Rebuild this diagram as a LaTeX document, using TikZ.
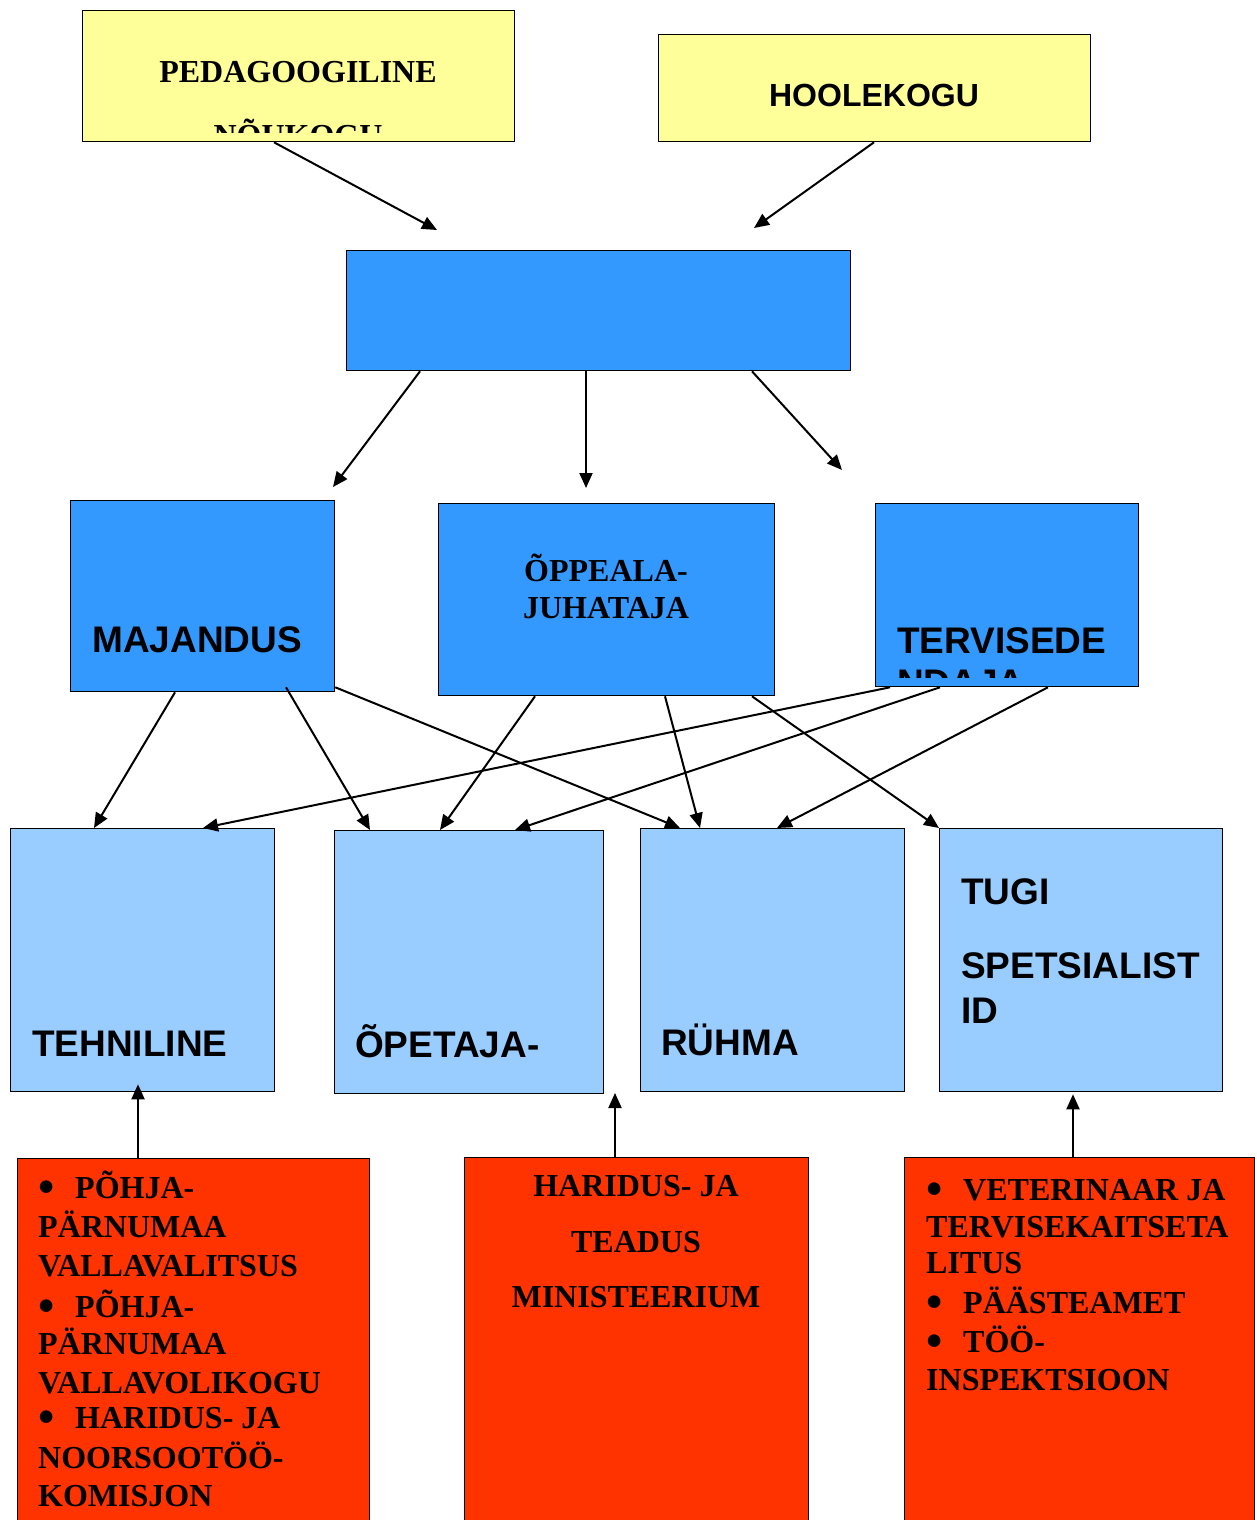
\documentclass[tikz,border=0pt]{standalone}
\usepackage{fontspec}
\usepackage{graphicx}
\newfontfamily\tnr{Liberation Serif}
\newfontfamily\arl{Liberation Sans}
\usetikzlibrary{arrows.meta,calc}
\definecolor{cyel}{HTML}{FFFF99}
\definecolor{cblue}{HTML}{3399FF}
\definecolor{clight}{HTML}{99CCFF}
\definecolor{cred}{HTML}{FF3300}
\newcommand{\mybul}{\makebox[37pt][l]{\smash{\raisebox{-4.5pt}{\scalebox{1.45}{•}}}}}
\begin{document}
\begin{tikzpicture}[x=1pt,y=-1pt,
  box/.style={draw=black,line width=1.3pt,inner sep=0pt,anchor=north west},
  yelbox/.style={box,fill=cyel},
  bluebox/.style={box,fill=cblue},
  lightbox/.style={box,fill=clight},
  redbox/.style={box,fill=cred},
  arr/.style={-{Triangle[length=15pt,width=13pt]},line width=2pt,black},
  ts/.style={inner sep=0pt,font=\tnr\bfseries\fontsize{32}{38}\selectfont},
  asm/.style={inner sep=0pt,font=\arl\bfseries\fontsize{32}{38}\selectfont},
  alg/.style={inner sep=0pt,font=\arl\bfseries\fontsize{37}{44}\selectfont}
]
\useasboundingbox (0,0) rectangle (1256,1520);
\fill[white] (0,0) rectangle (1256,1520);

% boxes
\node[yelbox,minimum width=432pt,minimum height=131pt] (ped) at (82,10) {};
\node[yelbox,minimum width=432pt,minimum height=107pt] (hoole) at (658,34) {};
\node[bluebox,minimum width=504pt,minimum height=120pt] (dir) at (346,250) {};
\node[bluebox,minimum width=264pt,minimum height=191pt] (maj) at (70,500) {};
\node[bluebox,minimum width=336pt,minimum height=192pt] (opp) at (438,503) {};
\node[bluebox,minimum width=263pt,minimum height=183pt] (ter) at (875,503) {};
\node[lightbox,minimum width=264pt,minimum height=263pt] (teh) at (10,828) {};
\node[lightbox,minimum width=269pt,minimum height=263pt] (ope) at (334,830) {};
\node[lightbox,minimum width=264pt,minimum height=263pt] (ryh) at (640,828) {};
\node[lightbox,minimum width=283pt,minimum height=263pt] (tug) at (939,828) {};
\node[redbox,minimum width=352pt,minimum height=400pt] (r1) at (17,1158) {};
\node[redbox,minimum width=344pt,minimum height=400pt] (r2) at (464,1157) {};
\node[redbox,minimum width=350pt,minimum height=400pt] (r3) at (904,1157) {};

% free arrow ends
\coordinate (c1) at (437,230);
\coordinate (c2) at (754,228);
\coordinate (c3) at (333,487);
\coordinate (c4) at (586,488);
\coordinate (c5) at (842,470);
\coordinate (c6) at (615,1093);

% arrows
\draw[arr] ($(ped.south west)+(192,0)$) -- (c1);
\draw[arr] ($(hoole.south west)+(216,0)$) -- (c2);
\draw[arr] ($(dir.south west)+(74,0)$) -- (c3);
\draw[arr] ($(dir.south west)+(240,0)$) -- (c4);
\draw[arr] ($(dir.south west)+(406,0)$) -- (c5);
\draw[arr] ($(maj.south west)+(105,0)$) -- ($(teh.north west)+(84,0)$);
\draw[arr] ($(maj.south west)+(216,-5)$) -- ($(ope.north west)+(36,0)$);
\draw[arr] ($(maj.south east)+(0,-5)$) -- ($(ryh.north west)+(40,0)$);
\draw[arr] ($(opp.south west)+(97,0)$) -- ($(ope.north west)+(106,0)$);
\draw[arr] ($(opp.south west)+(227,0)$) -- ($(ryh.north west)+(60,0)$);
\draw[arr] ($(opp.south west)+(314,0)$) -- (tug.north west);
\draw[arr] ($(ter.south west)+(15,0)$) -- ($(teh.north west)+(193,0)$);
\draw[arr] ($(ter.south west)+(65,0)$) -- ($(ope.north west)+(181,0)$);
\draw[arr] ($(ter.south west)+(173,0)$) -- ($(ryh.north west)+(137,0)$);
\draw[arr] ($(r1.north west)+(121,0)$) -- ($(teh.south west)+(128,-8)$);
\draw[arr] ($(r2.north west)+(151,0)$) -- (c6);
\draw[arr] ($(r3.north west)+(169,0)$) -- ($(tug.south west)+(134,2)$);

% texts
\node[ts,anchor=base] (tped) at (298,82) {PEDAGOOGILINE};
\begin{scope}
  \clip (ped.north west) rectangle ($(ped.south east)+(0,-10)$);
  \node[ts,anchor=base] (tped2) at (298,146) {NÕUKOGU};
\end{scope}
\node[asm,anchor=base] (thoole) at (874,106) {HOOLEKOGU};
\node[alg,anchor=base west] (tmaj) at (92,652) {MAJANDUS};
\node[ts,anchor=base] (topp1) at (606,581) {ÕPPEALA-};
\node[ts,anchor=base] (topp2) at (606,618) {JUHATAJA};
\node[alg,anchor=base west] (tter) at (897,653) {TERVISEDE};
\begin{scope}
  \clip (ter.north west) rectangle ($(ter.south east)+(0,-10)$);
  \node[alg,anchor=base west] (tter2) at (897,695) {NDAJA};
\end{scope}
\node[alg,anchor=base west] (tteh) at (32,1056) {TEHNILINE};
\node[alg,anchor=base west] (tope) at (355,1057) {ÕPETAJA-};
\node[alg,anchor=base west] (tryh) at (661,1055) {RÜHMA};
\node[alg,anchor=base west] (ttug1) at (961,904) {TUGI};
\node[alg,anchor=base west] (ttug2) at (961,978) {SPETSIALIST};
\node[alg,anchor=base west] (ttug3) at (961,1023) {ID};

% left red box
\node[ts,anchor=base west] (l1) at (38,1198) {\mybul PÕHJA-};
\node[ts,anchor=base west] (l2) at (38,1237) {PÄRNUMAA};
\node[ts,anchor=base west] (l3) at (38,1276) {VALLAVALITSUS};
\node[ts,anchor=base west] (l4) at (38,1317) {\mybul PÕHJA-};
\node[ts,anchor=base west] (l5) at (38,1354) {PÄRNUMAA};
\node[ts,anchor=base west] (l6) at (38,1393) {VALLAVOLIKOGU};
\node[ts,anchor=base west] (l7) at (38,1428) {\mybul HARIDUS- JA};
\node[ts,anchor=base west] (l8) at (38,1468) {NOORSOOTÖÖ-};
\node[ts,anchor=base west] (l9) at (38,1506) {KOMISJON};

% middle red box
\node[ts,anchor=base] (m1) at (636,1196) {HARIDUS- JA};
\node[ts,anchor=base] (m2) at (636,1252) {TEADUS};
\node[ts,anchor=base] (m3) at (636,1307) {MINISTEERIUM};

% right red box
\node[ts,anchor=base west] (q1) at (926,1200) {\mybul VETERINAAR JA};
\node[ts,anchor=base west] (q2) at (926,1237) {TERVISEKAITSETA};
\node[ts,anchor=base west] (q3) at (926,1273) {LITUS};
\node[ts,anchor=base west] (q4) at (926,1313) {\mybul PÄÄSTEAMET};
\node[ts,anchor=base west] (q5) at (926,1352) {\mybul TÖÖ-};
\node[ts,anchor=base west] (q6) at (926,1390) {INSPEKTSIOON};
\end{tikzpicture}
\end{document}
